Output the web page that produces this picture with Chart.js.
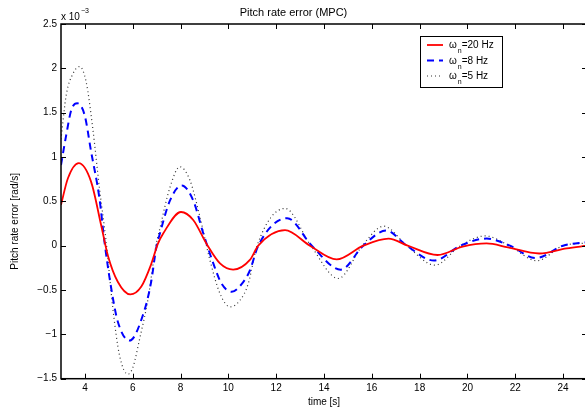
<!DOCTYPE html>
<html>
<head>
<meta charset="utf-8">
<script src="https://cdn.jsdelivr.net/npm/chart.js@4"></script>
<style>
  html, body { margin: 0; padding: 0; background: #fff; overflow: hidden; }
  #wrap { position: relative; width: 648px; height: 410px; }
</style>
</head>
<body>
<div id="wrap"><canvas id="chart"></canvas></div>
<script>
// values in units of 1e-3 rad/s (axis carries the "x 10^-3" multiplier)
const xTicks = [4, 6, 8, 10, 12, 14, 16, 18, 20, 22, 24];
const yTicks = [-1.5, -1, -0.5, 0, 0.5, 1, 1.5, 2, 2.5];

const tRed = [3.0, 3.29, 3.74, 4.26, 4.68, 4.96, 5.38, 5.9, 6.36, 6.77, 7.05, 7.28, 8.02, 8.53, 9.09, 9.65, 10.2, 10.9, 11.25, 12.37, 13.41, 14.53, 15.64, 16.7, 17.5, 18.75, 19.8, 20.8, 21.7, 23.0, 24.15, 25.0];
const errRed = [0.46, 0.76, 0.93, 0.72, 0.23, -0.11, -0.41, -0.55, -0.46, -0.21, 0.02, 0.14, 0.38, 0.29, 0.02, -0.2, -0.27, -0.16, 0.0, 0.175, 0.0, -0.155, 0.0, 0.08, 0.0, -0.105, -0.01, 0.025, -0.02, -0.088, -0.03, 0.0];

const tBlue = [3.0, 3.22, 3.43, 3.68, 3.99, 4.26, 4.61, 4.82, 5.1, 5.38, 5.87, 6.43, 6.77, 6.98, 7.14, 7.56, 8.05, 8.53, 8.95, 9.37, 9.72, 10.14, 10.62, 10.9, 11.25, 12.46, 13.49, 14.7, 15.64, 16.6, 17.46, 18.6, 19.7, 20.8, 21.78, 22.85, 24.0, 25.0];
const errBlue = [0.91, 1.25, 1.53, 1.605, 1.47, 1.06, 0.53, 0.04, -0.48, -0.86, -1.07, -0.78, -0.41, -0.03, 0.14, 0.51, 0.68, 0.51, 0.14, -0.2, -0.43, -0.52, -0.41, -0.28, 0.0, 0.31, 0.0, -0.27, 0.0, 0.17, 0.0, -0.168, 0.0, 0.08, 0.0, -0.14, 0.0, 0.04];

const tDot = [3.0, 3.22, 3.5, 3.78, 4.05, 4.33, 4.61, 4.89, 5.17, 5.45, 5.8, 6.01, 6.29, 6.64, 6.95, 7.14, 7.56, 7.97, 8.39, 8.81, 9.23, 9.65, 10.07, 10.49, 10.83, 11.2, 12.37, 13.45, 14.6, 15.6, 16.5, 17.46, 18.64, 19.7, 20.75, 21.75, 22.9, 24.0, 25.0];
const errDot = [1.2, 1.7, 1.94, 2.02, 1.85, 1.32, 0.645, 0.04, -0.71, -1.24, -1.45, -1.37, -1.05, -0.6, -0.03, 0.2, 0.66, 0.89, 0.74, 0.325, -0.164, -0.54, -0.69, -0.615, -0.43, 0.0, 0.42, 0.0, -0.37, 0.0, 0.22, 0.0, -0.22, 0.0, 0.11, 0.0, -0.17, 0.0, 0.03];

const legendTails = ['=20 Hz', '=8 Hz', '=5 Hz'];
const yTitle = 'Pitch rate error [rad/s]';

const FONT = '"Liberation Sans", Arial, Helvetica, sans-serif';
Chart.defaults.font.family = FONT;
Chart.defaults.font.size = 10;
Chart.defaults.color = '#000';

function pts(t, v) {
  return t.map((x, i) => ({ x: x, y: v[i] }));
}

function fmtY(v) {
  return v < 0 ? '\u2212' + Math.abs(v) : String(v);
}

// MATLAB style box with inward ticks on all four sides
const frame = {
  id: 'frame',
  afterDatasetsDraw(chart) {
    const { ctx, chartArea: a, scales: { x, y } } = chart;
    ctx.save();
    ctx.strokeStyle = '#000';
    ctx.lineWidth = 1;
    ctx.beginPath();
    xTicks.forEach((v) => {
      const px = Math.round(x.getPixelForValue(v)) + 0.5;
      ctx.moveTo(px, a.bottom); ctx.lineTo(px, a.bottom - 5);
      ctx.moveTo(px, a.top); ctx.lineTo(px, a.top + 5);
    });
    yTicks.forEach((v) => {
      const py = Math.round(y.getPixelForValue(v)) + 0.5;
      ctx.moveTo(a.left, py); ctx.lineTo(a.left + 5, py);
      ctx.moveTo(a.right, py); ctx.lineTo(a.right - 5, py);
    });
    ctx.stroke();
    ctx.lineWidth = 1.5;
    ctx.strokeRect(a.left, a.top, a.right - a.left, a.bottom - a.top);
    ctx.restore();
  },
  afterDraw(chart) {
    const { ctx, chartArea: a } = chart;
    ctx.save();
    ctx.fillStyle = '#000';
    ctx.textBaseline = 'alphabetic';
    // exponent label
    ctx.font = '10px ' + FONT;
    ctx.fillText('x 10', a.left, a.top - 4);
    const w = ctx.measureText('x 10').width;
    ctx.font = '7px ' + FONT;
    ctx.fillText('\u22123', a.left + w + 1, a.top - 11);

    // y axis title (sits a little below the axis middle, as in the source figure)
    ctx.save();
    ctx.font = '10px ' + FONT;
    ctx.textAlign = 'center';
    ctx.textBaseline = 'middle';
    ctx.translate(15, (a.top + a.bottom) / 2 + 20);
    ctx.rotate(-Math.PI / 2);
    ctx.fillText(yTitle, 0, 0);
    ctx.restore();

    // legend
    const bx = a.left + 359, by = 36, bw = 82, bh = 51;
    ctx.fillStyle = '#fff';
    ctx.fillRect(bx, by, bw, bh);
    ctx.strokeStyle = '#000';
    ctx.lineWidth = 1;
    ctx.strokeRect(bx + 0.5, by + 0.5, bw, bh);
    chart.data.datasets.forEach((ds, i) => {
      const ry = by + 9 + i * 15.5;
      ctx.save();
      ctx.strokeStyle = ds.borderColor;
      ctx.lineWidth = ds.borderWidth;
      ctx.setLineDash(ds.borderDash || []);
      ctx.beginPath();
      ctx.moveTo(bx + 7, ry);
      ctx.lineTo(bx + 23, ry);
      ctx.stroke();
      ctx.restore();
      ctx.fillStyle = '#000';
      ctx.font = '10px ' + FONT;
      let tx = bx + 29;
      ctx.fillText('\u03c9', tx, ry + 3);
      tx += ctx.measureText('\u03c9').width + 1;
      ctx.font = '7px ' + FONT;
      ctx.fillText('n', tx, ry + 8);
      tx += ctx.measureText('n').width;
      ctx.font = '10px ' + FONT;
      ctx.fillText(legendTails[i], tx, ry + 3);
    });
    ctx.restore();
  }
};

new Chart(document.getElementById('chart'), {
  type: 'line',
  data: {
    datasets: [
      {
        label: '\u03c9n' + legendTails[0],
        data: pts(tRed, errRed),
        borderColor: '#ff0000',
        borderWidth: 1.8,
      },
      {
        label: '\u03c9n' + legendTails[1],
        data: pts(tBlue, errBlue),
        borderColor: '#0000ff',
        borderWidth: 2,
        borderDash: [7, 5],
      },
      {
        label: '\u03c9n' + legendTails[2],
        data: pts(tDot, errDot),
        borderColor: '#333333',
        borderWidth: 1.2,
        borderDash: [1, 3],
      },
    ],
  },
  options: {
    responsive: true,
    maintainAspectRatio: false,
    animation: false,
    devicePixelRatio: 1,
    layout: { padding: { left: 0, right: 61, top: 0, bottom: 0 } },
    elements: {
      point: { radius: 0 },
      line: { cubicInterpolationMode: 'monotone', fill: false },
    },
    plugins: {
      legend: { display: false },
      tooltip: { enabled: false },
      title: {
        display: true,
        text: 'Pitch rate error (MPC)',
        font: { size: 11, weight: 'normal' },
        padding: { top: 6.5, bottom: 4.3 },
      },
    },
    scales: {
      x: {
        type: 'linear',
        min: 3,
        max: 25,
        grid: { display: false, drawTicks: false },
        border: { display: false },
        ticks: { padding: 4, maxRotation: 0 },
        afterBuildTicks: (s) => { s.ticks = xTicks.map((v) => ({ value: v })); },
        afterFit: (s) => { s.height = 31.3; },
        title: { display: true, text: 'time [s]', padding: { top: 0, bottom: 2 } },
      },
      y: {
        type: 'linear',
        min: -1.5,
        max: 2.5,
        grid: { display: false, drawTicks: false },
        border: { display: false },
        ticks: { padding: 4, callback: (v) => fmtY(v) },
        afterBuildTicks: (s) => { s.ticks = yTicks.map((v) => ({ value: v })); },
        afterFit: (s) => { s.width = 61; },
      },
    },
  },
  plugins: [frame],
});
</script>
</body>
</html>
